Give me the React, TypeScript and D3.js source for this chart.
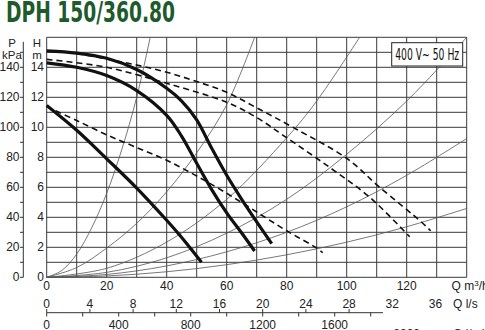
import React from "react";
import * as d3 from "d3";

// ---- data (Q in m3/h, H in m) ----
const curveA: [number, number][] = [[0,15.1],[10,14.95],[20,14.6],[30,13.85],[40,12.6],[45,11.75],[50,10.5],[55,8.6],[60,6.8],[65,5.2],[70,3.7],[75,2.25]];
const curveB: [number, number][] = [[0,14.3],[10,14.0],[20,13.45],[30,12.45],[40,10.8],[45,9.4],[50,7.6],[55,5.85],[60,4.3],[65,2.95],[69.3,1.75]];
const curveC: [number, number][] = [[0,11.45],[10,9.8],[20,7.9],[30,5.95],[40,3.8],[45,2.65],[51.6,1.0]];
const dashD1: [number, number][] = [[10,14.93],[20,14.55],[30,14.15],[40,13.67],[50,13.05],[60,12.33],[70,11.3],[82.7,9.93],[100,7.93],[111,6.0],[125,3.67],[128,3.1]];
const dashD2: [number, number][] = [[0,14.53],[20,14.0],[40,12.93],[60,11.67],[70,10.65],[79.3,9.4],[94.3,7.33],[107.7,5.33],[121,2.7]];
const dashD3: [number, number][] = [[3,11.1],[10,10.45],[20,9.5],[30,8.65],[40,7.8],[50,6.75],[60,5.6],[70,4.35],[80,3.1],[90,1.95],[92,1.65]];
const systemCurves: [number, number][][] = [
  [[0,0],[5,0.45],[10,1.55],[15,3.3],[20,5.6],[25,8.5],[30,12.0],[34.5,16]],
  [[0,0],[10,0.65],[20,1.95],[30,3.6],[40,5.7],[50,8.3],[60,11.5],[69.3,16]],
  [[0,0],[20,0.6],[40,2.35],[60,5.2],[80,9.3],[90,11.75],[104.3,16]],
  [[0,0],[20,0.33],[40,1.3],[60,2.94],[80,5.2],[100,8.2],[120,11.75],[140,16]],
  [[0,0],[20,0.19],[40,0.76],[60,1.7],[80,3.0],[100,4.7],[120,6.8],[140,9.25]],
  [[0,0],[20,0.09],[40,0.37],[60,0.84],[80,1.5],[100,2.34],[120,3.37],[140,4.59]],
];
const qTicks = [0, 20, 40, 60, 80, 100, 120];
const hTicks = [0, 2, 4, 6, 8, 10, 12, 14];
const pTicks = [0, 20, 40, 60, 80, 100, 120, 140];
const lsTicks = [0, 4, 8, 12, 16, 20, 24, 28, 32, 36];
const lminLabels = [0, 400, 800, 1200, 1600];
const lminTicks = [0, 200, 400, 600, 800, 1000, 1200, 1400, 1600, 1800];
const title = "DPH 150/360.80";
const boxText = "400 V~ 50 Hz";

export default function App() {
  const x = d3.scaleLinear().domain([0, 140]).range([46.7, 466.7]);
  const y = d3.scaleLinear().domain([0, 16]).range([277.3, 37.3]);
  const yP = d3.scaleLinear().domain([0, 160]).range([277.3, 37.3]);
  const xLs = d3.scaleLinear().domain([0, 140 / 3.6]).range([46.7, 466.7]);
  const xLm = d3.scaleLinear().domain([0, 140 / 0.06]).range([46.7, 466.7]);
  const line = d3.line<[number, number]>().x(d => x(d[0])).y(d => y(d[1])).curve(d3.curveCatmullRom.alpha(0.5));
  const font = "'Liberation Sans', Arial, sans-serif";
  const narrow = "'Liberation Sans Narrow', 'DejaVu Sans Condensed', sans-serif";
  const vLines = d3.range(0, 141, 10);
  const hLines = d3.range(0, 17, 1);
  const pMinor = d3.range(0, 151, 10);
  return (
    <svg width={485} height={330} style={{ position: "absolute", left: 0, top: 0, background: "#fff" }} fontFamily={font}>
      <rect width={485} height={330} fill="#fff" />
      <text x={6} y={22} fontFamily={narrow} fontWeight="bold" fontSize={28} fill="#1d5a2c" textLength={169} lengthAdjust="spacingAndGlyphs">{title}</text>
      {/* grid */}
      <g stroke="#3a3a3a" strokeWidth={1}>
        {vLines.map(v => <line key={"v" + v} x1={x(v)} x2={x(v)} y1={y(0)} y2={y(16)} />)}
        {hLines.map(h => <line key={"h" + h} x1={x(0)} x2={x(140)} y1={y(h)} y2={y(h)} />)}
      </g>
      {/* system curves */}
      <g fill="none" stroke="#555" strokeWidth={0.8}>
        {systemCurves.map((c, i) => <path key={i} d={line(c) || ""} />)}
      </g>
      {/* dashed curves */}
      <g fill="none" stroke="#111" strokeWidth={1.6} strokeDasharray="6,4">
        <path d={line(dashD1) || ""} />
        <path d={line(dashD2) || ""} />
        <path d={line(dashD3) || ""} />
      </g>
      {/* pump curves */}
      <g fill="none" stroke="#111" strokeWidth={3.2}>
        <path d={line(curveA) || ""} />
        <path d={line(curveB) || ""} />
        <path d={line(curveC) || ""} />
      </g>
      {/* box */}
      <rect x={391.7} y={42.7} width={71} height={23.3} fill="#fff" stroke="#222" strokeWidth={1} />
      <text x={427.2} y={60} textAnchor="middle" fontFamily={narrow} fontSize={15} fill="#111" textLength={64} lengthAdjust="spacingAndGlyphs">{boxText}</text>
      {/* H axis */}
      <text x={37} y={47} textAnchor="middle" fontSize={11.5} fill="#222">H</text>
      <text x={37} y={58.5} textAnchor="middle" fontSize={11.5} fill="#222">m</text>
      {hTicks.map(h => <text key={"ht" + h} x={44} y={y(h) + 4} textAnchor="end" fontSize={12} fill="#222">{h}</text>)}
      {/* P axis */}
      <text x={12} y={47} textAnchor="middle" fontSize={11.5} fill="#222">P</text>
      <text x={12} y={58.5} textAnchor="middle" fontSize={11.5} fill="#222">kPa</text>
      <line x1={23.3} x2={23.3} y1={yP(0)} y2={yP(157)} stroke="#333" strokeWidth={1} />
      {pMinor.map(p => <line key={"pm" + p} x1={20} x2={23.3} y1={yP(p)} y2={yP(p)} stroke="#333" strokeWidth={1} />)}
      {pTicks.map(p => <text key={"pt" + p} x={19.5} y={yP(p) + 4} textAnchor="end" fontSize={12} fill="#222">{p}</text>)}
      {/* Q m3/h */}
      {qTicks.map(q => <text key={"q" + q} x={x(q)} y={290} textAnchor="middle" fontSize={12} fill="#222">{q}</text>)}
      <text x={451.5} y={290} fontSize={12} fill="#222">Q m<tspan fontSize={8} dy={-4}>3</tspan><tspan dy={4}>/h</tspan></text>
      {/* Q l/s */}
      {lsTicks.map(q => <text key={"ls" + q} x={xLs(q)} y={308} textAnchor="middle" fontSize={12} fill="#222">{q}</text>)}
      <text x={453} y={308} fontSize={12} fill="#222">Q l/s</text>
      <line x1={xLs(0)} x2={383} y1={312.7} y2={312.7} stroke="#333" strokeWidth={1} />
      {lsTicks.filter(q => xLs(q) < 383).map(q => <line key={"lst" + q} x1={xLs(q)} x2={xLs(q)} y1={309} y2={312.7} stroke="#333" />)}
      {lminTicks.map(q => <line key={"lmt" + q} x1={xLm(q)} x2={xLm(q)} y1={312.7} y2={316.5} stroke="#333" />)}
      {/* Q l/min */}
      {lminLabels.map(q => <text key={"lm" + q} x={xLm(q)} y={329} textAnchor="middle" fontSize={12} fill="#222">{q}</text>)}
      <text x={xLm(2000)} y={338} textAnchor="middle" fontSize={12} fill="#222">2000</text>
      <text x={453} y={338} fontSize={12} fill="#222">Q l/min</text>
    </svg>
  );
}
